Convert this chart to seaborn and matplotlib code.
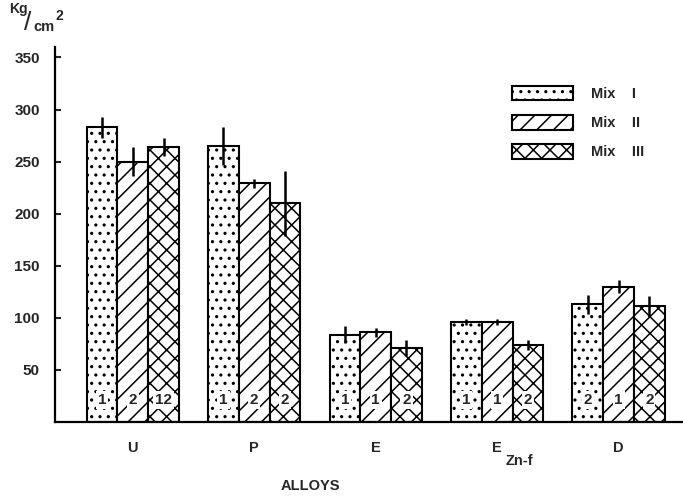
import matplotlib
matplotlib.use("Agg")
import matplotlib.pyplot as plt
import matplotlib.patches as mpatches
import seaborn as sns
import pandas as pd

# ---- data ----
alloys = ["U", "P", "E", "E_Zn-f", "D"]
mixes = ["Mix I", "Mix II", "Mix III"]
mix_i = [283, 265, 84, 96, 113]
mix_ii = [250, 229, 86, 96, 130]
mix_iii = [264, 210, 71, 74, 111]
err_i = [10, 18, 8, 3, 9]
err_ii = [14, 4, 4, 3, 6]
err_iii = [9, 31, 8, 5, 10]
counts_i = ["1", "1", "1", "1", "2"]
counts_ii = ["2", "2", "1", "1", "1"]
counts_iii = ["12", "2", "2", "2", "2"]
y_ticks = [50, 100, 150, 200, 250, 300, 350]
legend_labels = ["Mix    I", "Mix    II", "Mix    III"]

values = [mix_i, mix_ii, mix_iii]
errors = [err_i, err_ii, err_iii]
counts = [counts_i, counts_ii, counts_iii]
hatches = ["..", "//", "xx"]

rows = []
for m, vals in zip(mixes, values):
    for a, v in zip(alloys, vals):
        rows.append({"alloy": a, "mix": m, "value": v})
df = pd.DataFrame(rows)

sns.set_theme(style="white")
plt.rcParams["font.family"] = ["Liberation Sans", "DejaVu Sans"]
plt.rcParams["hatch.linewidth"] = 1.1

fig = plt.figure(figsize=(6.83, 4.99), dpi=100)
ax = fig.add_axes([55 / 683, 77 / 499, 1 - 55 / 683, (422 - 47) / 499])

sns.barplot(data=df, x="alloy", y="value", hue="mix", order=alloys,
            hue_order=mixes, palette={m: "white" for m in mixes},
            saturation=1, width=0.76, edgecolor="black", linewidth=1.5,
            errorbar=None, legend=False, ax=ax)

for cont, h, vals, errs, cnts in zip(ax.containers, hatches, values, errors, counts):
    xs = []
    for p in cont:
        p.set_hatch(h)
        p.set_edgecolor("black")
        xs.append(p.get_x() + p.get_width() / 2)
    ax.errorbar(xs, vals, yerr=errs, fmt="none", ecolor="black",
                elinewidth=1.8, capsize=0, zorder=5)
    for x, c in zip(xs, cnts):
        ax.text(x, 21, c, ha="center", va="center", fontsize=11,
                fontweight="bold", zorder=6,
                bbox=dict(boxstyle="square,pad=0.12", fc="white", ec="none"))

ax.set_ylim(0, 360)
ax.set_xlim(-0.64, 4.53)
ax.set_yticks(y_ticks)
ax.set_yticklabels([str(t) for t in y_ticks], fontsize=11, fontweight="bold")
ax.tick_params(axis="y", direction="in", length=4, width=1.5, pad=11, left=True)
disp = ["U", "P", "E", "E", "D"]
ax.set_xticks(range(len(alloys)))
ax.set_xticklabels(disp, fontsize=10.5, fontweight="bold")
ax.tick_params(axis="x", length=0, pad=14)
ax.annotate("Zn-f", xy=(3, 0), xycoords=("data", "axes fraction"),
            xytext=(6, -28), textcoords="offset points", ha="left", va="center",
            fontsize=10.5, fontweight="bold")
ax.set_xlabel("")
ax.set_ylabel("")
for s in ["top", "right"]:
    ax.spines[s].set_visible(False)
for s in ["left", "bottom"]:
    ax.spines[s].set_color("black")
    ax.spines[s].set_linewidth(1.6)

handles = [mpatches.Patch(facecolor="white", edgecolor="black", hatch=h, linewidth=1.5)
           for h in hatches]
fig.legend(handles, legend_labels, loc="upper left",
           bbox_to_anchor=(512 / 683, 1 - 86 / 499), frameon=False,
           borderpad=0, borderaxespad=0, handlelength=4.2, handleheight=1.15,
           handletextpad=1.2, labelspacing=0.95,
           prop={"size": 10.5, "weight": "bold"})

fig.text(310 / 683, 1 - 486 / 499, "ALLOYS", ha="center", va="center",
         fontsize=10.5, fontweight="bold")
fig.text(9 / 683, 1 - 9 / 499, "Kg", ha="left", va="center", fontsize=10, fontweight="bold")
fig.text(28 / 683, 1 - 23 / 499, "/", ha="center", va="center", fontsize=19,
         fontweight="normal")
fig.text(33 / 683, 1 - 27 / 499, "cm", ha="left", va="center", fontsize=10.5, fontweight="bold")
fig.text(56 / 683, 1 - 16 / 499, "2", ha="left", va="center", fontsize=10, fontweight="bold")

fig.savefig("out.png", dpi=100)
